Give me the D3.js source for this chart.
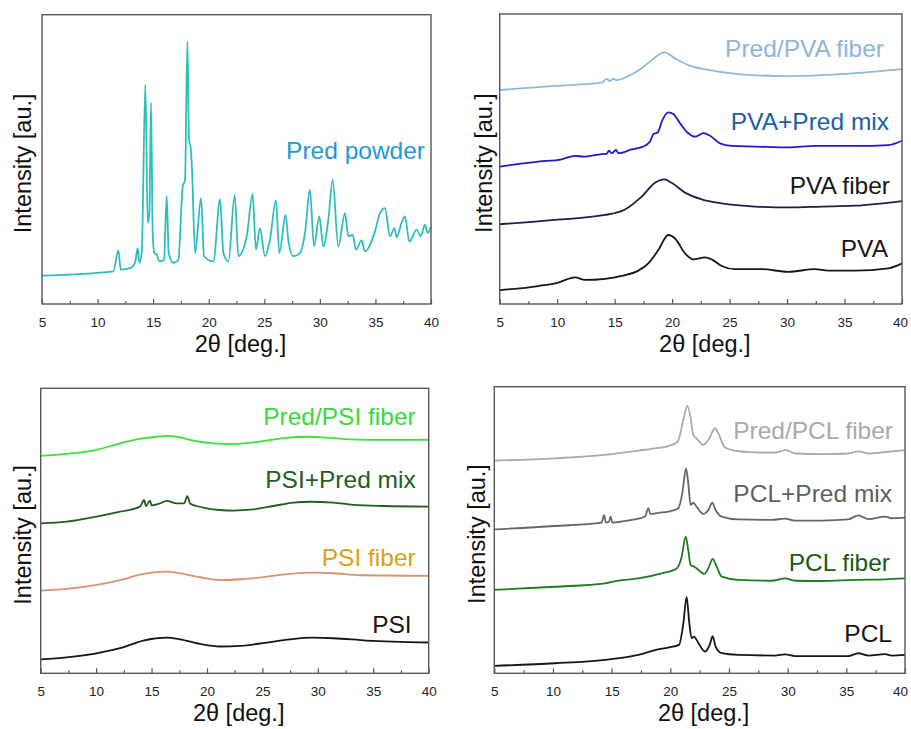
<!DOCTYPE html>
<html>
<head>
<meta charset="utf-8">
<script src="https://cdn.jsdelivr.net/npm/d3@7"></script>
<style>
  html, body { margin: 0; padding: 0; background: #fff; }
  svg { display: block; font-family: "Liberation Sans", Arial, sans-serif; }
</style>
</head>
<body>
<svg id="chart" width="911" height="729"></svg>
<script>
// X-ray diffraction patterns, [2θ (deg), intensity (a.u., offset per trace)]

// Panel A: prednisolone powder
const predPowder = [
  [5.00,9.8],[11.42,11.3],[11.87,18.5],[12.08,11.9],[12.92,12.4],[13.37,14.2],[13.61,19.3],[13.76,14.2],
  [13.97,17.6],[14.30,75.9],[14.51,28.0],[14.66,31.4],[14.81,69.6],[14.96,24.5],[15.11,17.6],[15.32,17.0],
  [15.56,14.7],[15.98,15.3],[16.22,37.4],[16.40,17.6],[16.82,14.2],[17.27,15.3],[17.66,40.6],[17.87,42.9],
  [18.08,90.7],[18.23,56.7],[18.38,53.9],[18.50,46.4],[18.77,17.6],[19.31,36.6],[19.58,16.5],[20.42,14.7],
  [21.02,36.2],[21.32,17.6],[21.77,14.7],[22.34,37.7],[22.67,16.5],[23.42,23.4],[23.95,38.1],[24.25,18.8],
  [24.61,26.2],[25.06,16.5],[25.51,22.2],[26.05,35.8],[26.35,17.6],[26.92,30.8],[27.16,22.2],[27.61,16.5],
  [28.21,17.6],[28.66,24.5],[29.11,39.5],[29.47,19.9],[29.95,30.3],[30.31,19.9],[30.76,29.1],[31.15,42.9],
  [31.66,19.9],[32.26,31.4],[32.56,23.4],[32.95,23.9],[33.25,18.8],[33.76,22.0],[34.06,18.2],[34.96,25.1],
  [35.41,31.4],[35.86,33.1],[36.31,23.4],[36.70,26.2],[36.91,23.1],[37.36,28.2],[37.66,30.3],[38.05,21.6],
  [38.71,25.7],[39.07,23.4],[39.46,27.4],[39.70,24.5],[40.00,26.8]
];

// Panel B: PVA series
const predPvaFiber = [
  [5.00,73.8],[9.81,75.2],[13.87,76.3],[14.31,77.6],[14.60,76.9],[14.89,77.7],[15.18,77.2],[16.19,78.6],
  [17.35,81.3],[18.22,84.1],[19.32,86.8],[20.25,84.7],[21.41,82.4],[23.15,80.7],[25.76,79.3],[30.11,78.6],
  [33.01,78.9],[35.91,79.6],[40.00,81.0]
];
const pvaPredMix = [
  [5.00,47.4],[8.36,49.1],[10.39,49.9],[11.55,51.1],[12.28,50.8],[13.87,51.7],[14.31,51.8],[14.51,52.9],
  [14.74,52.0],[15.12,53.1],[15.32,52.0],[16.48,53.3],[17.50,54.3],[18.08,56.0],[18.37,58.6],[18.74,59.1],
  [19.15,63.4],[19.67,66.1],[20.11,65.5],[20.69,62.3],[21.41,58.9],[21.99,57.7],[22.72,58.9],[23.30,58.0],
  [24.17,55.4],[25.18,54.5],[27.21,54.3],[30.11,54.0],[32.43,54.5],[35.91,54.5],[38.81,54.8],[40.00,56.3]
];
const pvaFiber = [
  [5.00,27.5],[9.81,29.0],[14.16,30.7],[15.90,32.6],[17.35,37.0],[18.51,41.8],[19.32,43.0],[19.96,41.8],
  [21.12,38.4],[22.57,36.1],[24.31,34.7],[27.21,33.6],[30.11,33.3],[33.01,33.6],[35.91,33.9],[40.00,35.5]
];
const pva = [
  [5.00,4.8],[8.36,6.2],[10.10,7.4],[11.55,9.2],[12.42,8.3],[14.16,8.7],[15.61,9.7],[17.06,11.5],
  [17.93,14.0],[18.80,18.6],[19.67,23.8],[20.25,22.6],[21.12,17.5],[21.85,15.4],[22.86,16.1],[23.44,15.4],
  [24.31,13.1],[25.47,12.0],[27.79,12.0],[30.11,11.1],[32.43,12.0],[33.59,11.5],[35.91,11.5],[38.81,12.3],
  [40.00,14.0]
];

// Panel C: PSI series
const predPsiFiber = [
  [5.00,76.3],[7.35,77.0],[10.05,78.4],[12.16,80.7],[14.26,82.5],[15.46,83.0],[16.37,83.3],[17.57,82.8],
  [18.77,81.6],[20.58,80.7],[22.38,80.5],[24.79,81.3],[26.89,82.5],[29.30,83.0],[30.80,82.7],[32.90,82.1],
  [35.91,81.9],[40.00,81.9]
];
const psiPredMix = [
  [5.00,52.6],[7.35,53.2],[10.05,55.0],[12.16,56.7],[13.96,58.5],[14.32,60.8],[14.50,58.7],[14.86,60.6],
  [15.01,58.9],[15.76,59.6],[16.37,60.5],[17.27,59.6],[17.93,59.6],[18.23,62.2],[18.47,59.6],[19.07,58.7],
  [19.97,57.9],[21.18,57.3],[22.38,57.1],[24.18,57.5],[25.99,58.7],[27.79,59.9],[29.30,60.2],[31.40,59.9],
  [33.20,59.1],[35.91,58.7],[40.00,58.5]
];
const psiFiber = [
  [5.00,29.0],[7.35,29.6],[10.05,31.0],[12.16,32.7],[14.26,34.9],[16.37,35.7],[17.57,35.1],[19.37,33.7],
  [21.18,32.7],[22.98,33.0],[25.39,33.9],[27.49,34.9],[29.60,35.3],[31.40,35.1],[33.81,34.4],[40.00,34.2]
];
const psi = [
  [5.00,4.9],[7.35,5.6],[10.05,7.0],[12.16,8.8],[14.26,11.5],[16.37,12.5],[17.57,11.9],[19.37,10.3],
  [21.18,9.4],[22.98,9.6],[25.39,10.8],[27.49,11.9],[29.60,12.5],[31.40,12.3],[34.41,11.5],[40.00,10.8]
];

// Panel D: PCL series
const predPclFiber = [
  [5.00,74.2],[10.17,75.0],[14.43,76.2],[17.27,77.7],[18.69,78.5],[19.83,79.3],[20.63,80.8],[21.11,88.4],
  [21.45,93.3],[21.76,88.4],[21.96,83.1],[22.24,82.0],[22.81,79.7],[23.24,81.4],[23.81,85.5],[24.09,83.7],
  [24.66,78.8],[25.51,77.7],[27.22,77.1],[28.92,77.0],[29.86,77.9],[30.63,76.7],[32.90,76.5],[35.17,76.7],
  [36.02,77.4],[36.88,76.7],[38.58,77.3],[40.00,77.9]
];
const pclPredMix = [
  [5.00,50.2],[10.17,51.4],[14.15,52.6],[14.35,55.2],[14.52,52.6],[14.77,52.9],[14.91,54.7],[15.06,52.6],
  [16.42,53.3],[17.84,54.7],[18.13,57.6],[18.30,55.6],[18.98,56.0],[19.83,56.4],[20.68,57.6],[21.02,62.8],
  [21.34,71.5],[21.53,66.3],[21.73,58.7],[21.96,59.5],[22.24,58.1],[22.81,55.6],[23.24,57.0],[23.58,59.5],
  [23.86,57.0],[24.38,54.7],[25.80,53.7],[28.64,53.5],[29.77,54.0],[30.63,53.3],[32.90,53.3],[35.17,53.7],
  [36.02,55.1],[36.88,53.8],[38.30,54.7],[38.86,54.1],[40.00,54.3]
];
const pclFiber = [
  [5.00,29.1],[10.17,30.2],[14.43,31.4],[15.57,32.3],[17.27,33.1],[19.26,34.9],[20.54,36.6],[20.97,40.7],
  [21.31,47.7],[21.53,43.0],[21.73,37.8],[22.05,37.2],[22.33,36.3],[22.90,34.7],[23.30,37.2],[23.61,39.9],
  [23.95,37.2],[24.38,33.7],[25.80,32.6],[28.64,32.3],[29.77,33.1],[30.63,32.3],[32.90,32.2],[35.74,32.6],
  [38.30,32.8],[40.00,33.1]
];
const pcl = [
  [5.00,2.6],[10.17,3.5],[14.43,4.7],[17.27,6.4],[18.69,8.1],[19.83,9.0],[20.74,9.9],[21.11,17.4],
  [21.39,26.7],[21.62,17.4],[21.82,12.2],[22.02,12.8],[22.33,11.0],[22.95,7.6],[23.38,10.2],[23.61,13.0],
  [23.86,9.3],[24.38,7.0],[25.80,6.4],[28.92,6.2],[29.77,6.6],[30.63,6.0],[35.17,6.0],[36.02,7.0],
  [36.88,6.2],[38.30,6.7],[38.86,6.2],[40.00,6.4]
];

// Axis settings shared by all panels
const xDomain = [5, 40];
const xTickValues = [5, 10, 15, 20, 25, 30, 35, 40];
const xMinorTicks = [7.5, 12.5, 17.5, 22.5, 27.5, 32.5, 37.5];
const xTitle = "2θ [deg.]";
const yTitle = "Intensity [au.]";

// Trace names, label placement (value-space y of label baseline, px inset from right frame) and colours
const panelA = {
  box: { left: 42, right: 431, top: 14.7, bottom: 304 }, yTitleGap: 11, lastTickShift: 0,
  series: [
    { name: "Pred powder", data: predPowder, line: "#2dbdbd", text: "#1b9ad6", labelY: 50.2, inset: 6 }
  ]
};
const panelB = {
  box: { left: 499.7, right: 902, top: 14, bottom: 304 }, yTitleGap: 8, lastTickShift: -2,
  series: [
    { name: "Pred/PVA fiber", data: predPvaFiber, line: "#8fbadc", text: "#8db5d9", labelY: 85.1, inset: 18 },
    { name: "PVA+Pred mix", data: pvaPredMix, line: "#1c1cc8", text: "#1b5ea8", labelY: 60.0, inset: 13 },
    { name: "PVA fiber", data: pvaFiber, line: "#1e1e4e", text: "#161616", labelY: 37.9, inset: 12 },
    { name: "PVA", data: pva, line: "#161616", text: "#161616", labelY: 16.1, inset: 14 }
  ]
};
const panelC = {
  box: { left: 40.7, right: 428.7, top: 388.3, bottom: 673.3 }, yTitleGap: 10, lastTickShift: 0,
  series: [
    { name: "Pred/PSI fiber", data: predPsiFiber, line: "#3ce03c", text: "#3ad83a", labelY: 87.1, inset: 13 },
    { name: "PSI+Pred mix", data: psiPredMix, line: "#1e5e1e", text: "#1e5e1e", labelY: 64.9, inset: 13 },
    { name: "PSI fiber", data: psiFiber, line: "#d99272", text: "#d9a112", labelY: 37.6, inset: 13 },
    { name: "PSI", data: psi, line: "#161616", text: "#161616", labelY: 14.0, inset: 17 }
  ]
};
const panelD = {
  box: { left: 494.3, right: 905, top: 386.7, bottom: 673.3 }, yTitleGap: 9, lastTickShift: -5,
  series: [
    { name: "Pred/PCL fiber", data: predPclFiber, line: "#a9a9a9", text: "#a9a9a9", labelY: 81.6, inset: 12 },
    { name: "PCL+Pred mix", data: pclPredMix, line: "#666666", text: "#5f5f5f", labelY: 59.9, inset: 13 },
    { name: "PCL fiber", data: pclFiber, line: "#1f7a1f", text: "#155c15", labelY: 35.8, inset: 15 },
    { name: "PCL", data: pcl, line: "#161616", text: "#161616", labelY: 11.0, inset: 13 }
  ]
};

const svg = d3.select("#chart");

function drawPanel(panel) {
  const b = panel.box;
  const x = d3.scaleLinear().domain(xDomain).range([b.left, b.right]);
  const y = d3.scaleLinear().domain([0, 100]).range([b.bottom, b.top]);
  const g = svg.append("g");

  // traces and their names
  const line = d3.line().x(d => x(d[0])).y(d => y(d[1])).curve(d3.curveMonotoneX);
  panel.series.forEach(s => {
    g.append("path")
      .attr("d", line(s.data))
      .attr("fill", "none")
      .attr("stroke", s.line)
      .attr("stroke-width", 1.8)
      .attr("stroke-linejoin", "round");
    g.append("text")
      .attr("x", b.right - s.inset)
      .attr("y", y(s.labelY))
      .attr("text-anchor", "end")
      .attr("font-size", 24.5)
      .attr("fill", s.text)
      .text(s.name);
  });

  // bottom axis: major ticks with labels, minor ticks, all pointing inward
  const axis = d3.axisBottom(x).tickValues(xTickValues).tickSize(-5).tickPadding(13)
    .tickFormat(d3.format("d"));
  const ax = g.append("g").attr("transform", `translate(0,${b.bottom})`).call(axis);
  ax.select(".domain").remove();
  ax.selectAll(".tick line").attr("stroke", "#555").attr("stroke-width", 1.2);
  ax.selectAll(".tick text").attr("font-size", 13.5).attr("fill", "#222")
    .attr("font-family", "'Liberation Sans', Arial, sans-serif")
    .attr("dx", d => d === xDomain[1] ? panel.lastTickShift : 0);
  const minor = d3.axisBottom(x).tickValues(xMinorTicks).tickSize(-3).tickFormat("");
  const mx = g.append("g").attr("transform", `translate(0,${b.bottom})`).call(minor);
  mx.select(".domain").remove();
  mx.selectAll(".tick line").attr("stroke", "#555").attr("stroke-width", 1.2);

  // frame
  g.append("rect")
    .attr("x", b.left).attr("y", b.top)
    .attr("width", b.right - b.left).attr("height", b.bottom - b.top)
    .attr("fill", "none").attr("stroke", "#575757").attr("stroke-width", 1.4);

  // axis titles
  g.append("text")
    .attr("x", (b.left + b.right) / 2 + 4)
    .attr("y", b.bottom + 48)
    .attr("text-anchor", "middle")
    .attr("font-size", 23.5)
    .attr("fill", "#111")
    .text(xTitle);
  g.append("text")
    .attr("transform", `translate(${b.left - panel.yTitleGap},${(b.top + b.bottom) / 2 + 4}) rotate(-90)`)
    .attr("text-anchor", "middle")
    .attr("font-size", 23.5)
    .attr("fill", "#111")
    .text(yTitle);
}

[panelA, panelB, panelC, panelD].forEach(drawPanel);
</script>
</body>
</html>
